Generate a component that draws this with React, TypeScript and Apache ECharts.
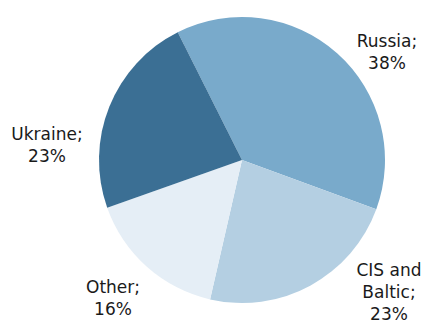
import React, { useEffect, useRef } from "react";
import * as echarts from "echarts";

const categories = ["Russia", "CIS and\nBaltic", "Other", "Ukraine"];
const values = [38, 23, 16, 23];
const colors = ["#79AACB", "#B4CFE2", "#E5EEF6", "#3B6F94"];
const labelPos: [number, number][] = [[387, 52], [389, 292], [113, 298], [47, 145]];

export default function App() {
  const ref = useRef<HTMLDivElement>(null);
  useEffect(() => {
    document.body.style.margin = "0";
    const chart = echarts.init(ref.current!, null, { renderer: "svg" });
    chart.setOption({
      animation: false,
      series: [
        {
          type: "pie",
          center: [242, 160],
          radius: 143,
          startAngle: 116.7,
          clockwise: true,
          data: categories.map((c, i) => ({ name: c, value: values[i], itemStyle: { color: colors[i] } })),
          label: {
            show: true,
            position: "outside",
            formatter: (p: any) => `${p.name};\n${p.value}%`,
            fontFamily: "DejaVu Sans",
            fontSize: 17,
            lineHeight: 22,
            color: "#1a1a1a",
            align: "center",
            overflow: "none",
            width: 120,
          },
          labelLine: { show: false },
          labelLayout: (params: any) => {
            const [x, y] = labelPos[params.dataIndex];
            return { x, y, align: "center", verticalAlign: "middle" };
          },
          itemStyle: { borderWidth: 0 },
          emphasis: { disabled: true },
        },
      ],
    });
    return () => chart.dispose();
  }, []);
  return <div ref={ref} style={{ width: 423, height: 325 }} />;
}
